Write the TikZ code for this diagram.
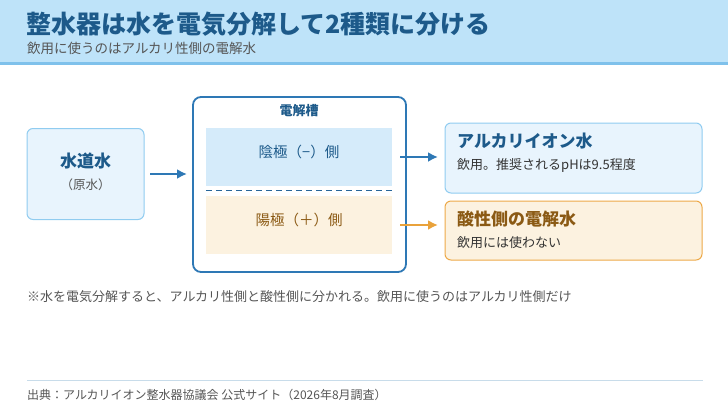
\documentclass[tikz,border=0pt]{standalone}
\usepackage{fontspec}
\setmainfont{Noto Sans CJK JP}
\usepackage{tikz}
\usetikzlibrary{positioning, arrows.meta}
\definecolor{headbg}{HTML}{BEE3F9}
\definecolor{headline}{HTML}{7FC1EB}
\definecolor{titleblue}{HTML}{1D5A8A}
\definecolor{cellblue}{HTML}{2E78B5}
\definecolor{lightfill}{HTML}{E8F4FD}
\definecolor{lightedge}{HTML}{90CCF0}
\definecolor{cathfill}{HTML}{D5EBFA}
\definecolor{anodefill}{HTML}{FCF2E0}
\definecolor{orangeedge}{HTML}{EDA948}
\definecolor{orangearrow}{HTML}{E9A23B}
\definecolor{browntext}{HTML}{8B5A14}
\definecolor{greytext}{HTML}{555555}
\definecolor{footline}{HTML}{C8DCEA}

\begin{document}
\begin{tikzpicture}[x=1pt, y=-1pt,
    bluebox/.style={draw=lightedge, fill=lightfill, line width=1pt, rounded corners=6pt},
    orangebox/.style={draw=orangeedge, fill=anodefill, line width=1pt, rounded corners=6pt},
    panel/.style={minimum width=186pt, inner sep=0pt},
    txt/.style={inner sep=0pt, anchor=west},
    flow/.style={line width=2.8pt, arrows={-Latex[width=10pt, length=10pt]}}]
      \useasboundingbox (0,0) rectangle (728,410);

      % Header band
      \fill[headbg] (0,0) rectangle (728,62);
      \fill[headline] (0,62) rectangle (728,65);
      \node[txt, text=titleblue, font=\fontsize{25}{25}\selectfont\bfseries] (title) at (26,24) {整水器は水を電気分解して2種類に分ける};
      \node[txt, text=greytext, font=\fontsize{13.5}{14}\selectfont] (subtitle) at (27,48) {飲用に使うのはアルカリ性側の電解水};

      % Raw water on the left
      \node[bluebox, minimum width=117pt, minimum height=91pt] at (85.5,174) (tap) {};
      \node[inner sep=0pt, text=titleblue, font=\fontsize{17}{17}\selectfont\bfseries] at (85.5,161) (taplabel) {水道水};
      \node[inner sep=0pt, text=greytext, font=\fontsize{12.5}{13}\selectfont] at (85.5,185) (tapsub) {（原水）};

      % Electrolysis cell
      \node[draw=cellblue, fill=white, line width=1.8pt, rounded corners=8pt, minimum width=213pt, minimum height=175pt] at (299.5,184.5) (cell) {};
      \node[inner sep=0pt, text=titleblue, font=\fontsize{13}{13}\selectfont\bfseries] at (299,111) (celllabel) {電解槽};
      \node[panel, fill=cathfill, minimum height=58pt] at (299,157) (cathode) {};
      \node[inner sep=0pt, text=titleblue, font=\fontsize{14.5}{15}\selectfont] at (299,152) (cathlabel) {陰極（−）側};
      \node[panel, fill=anodefill, minimum height=58pt] at (299,225) (anode) {};
      \node[inner sep=0pt, text=browntext, font=\fontsize{14.5}{15}\selectfont] at (299,220) (anodelabel) {陽極（＋）側};
      \draw[cellblue!85!black, line width=1.3pt, dash pattern=on 6pt off 4pt] ([yshift=-4.5pt]cathode.south west) -- ([yshift=-4.5pt]cathode.south east);

      % Output boxes
      \node[bluebox, minimum width=257pt, minimum height=70pt] at (573.5,158) (alkali) {};
      \node[txt, text=titleblue, font=\fontsize{17}{17}\selectfont\bfseries] at (457,141) (alkalititle) {アルカリイオン水};
      \node[txt, text=black!80, font=\fontsize{13}{13}\selectfont] at (457,166) (alkalinote) {飲用。推奨されるpHは9.5程度};
      \node[orangebox, minimum width=257pt, minimum height=59pt] at (573.5,230.5) (acid) {};
      \node[txt, text=browntext, font=\fontsize{17}{17}\selectfont\bfseries] at (457,219) (acidtitle) {酸性側の電解水};
      \node[txt, text=black!80, font=\fontsize{13}{13}\selectfont] at (457,243) (acidnote) {飲用には使わない};

      % Arrows
      \coordinate (tapout) at (150,174);
      \coordinate (cellin) at (187,174);
      \coordinate (alkout) at (400,157);
      \coordinate (alkin) at (438,157);
      \coordinate (acidout) at (400,225);
      \coordinate (acidin) at (438,225);
      \draw[flow, cellblue] (tapout) -- (cellin);
      \draw[flow, cellblue] (alkout) -- (alkin);
      \draw[flow, orangearrow] (acidout) -- (acidin);

      % Note and footer
      \node[txt, text=greytext, font=\fontsize{13}{13}\selectfont] at (27,297) (note) {※水を電気分解すると、アルカリ性側と酸性側に分かれる。飲用に使うのはアルカリ性側だけ};
      \draw[footline, line width=1pt] (27,380) -- (703,380);
      \node[txt, text=greytext, font=\fontsize{12}{12}\selectfont] at (27,395) (source) {出典：アルカリイオン整水器協議会 公式サイト（2026年8月調査）};
    \end{tikzpicture}
\end{document}
